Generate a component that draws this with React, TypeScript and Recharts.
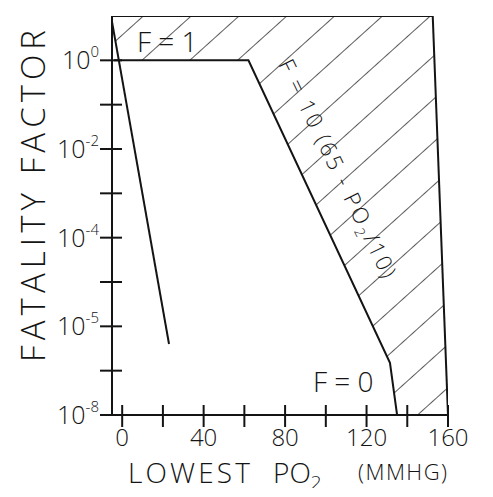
import { ComposedChart, Line, Area, XAxis, YAxis } from 'recharts'

const xTicks = [0, 20, 40, 60, 80, 100, 120, 140, 160]
const xTickLabels = [0, 40, 80, 120, 160]
const yTicks = [1, 1e-1, 1e-2, 1e-3, 1e-4, 1e-5, 1e-6, 1e-7, 1e-8]
// exponent written beside each labelled decade (the scan reads -5 at the 10^-6 mark)
const yTickLabels: Record<number, string> = { 0: '0', [-2]: '-2', [-4]: '-4', [-6]: '-5', [-8]: '-8' }

// outline of the sketch
const frameTop = [{ x: -5, y: 10 }, { x: 152.5, y: 10 }]
const frameRight = [{ x: 152.5, y: 10 }, { x: 160, y: 1e-8 }]
const leftLine = [{ x: -5.5, y: 10 }, { x: 23, y: 4e-7 }]
const boundary = [
  { x: -4, y: 1 },
  { x: 62, y: 1 },
  { x: 131.5, y: 1.5e-7 },
  { x: 135, y: 1e-8 },
]
// hatched zone: [lower, upper]
const hatched = [
  { x: -5.5, range: [10, 10] },
  { x: -2, range: [1, 10] },
  { x: 62, range: [1, 10] },
  { x: 131.5, range: [1.5e-7, 10] },
  { x: 135, range: [1e-8, 10] },
  { x: 152.5, range: [1e-8, 10] },
  { x: 160, range: [1e-8, 1e-8] },
]

const INK = '#141414'
const FONT = '"Open Sans", "DejaVu Sans", sans-serif'

function YTick({ x, y, payload }: any) {
  const exp = Math.round(Math.log10(payload.value))
  const label = yTickLabels[exp]
  return (
    <g>
      <line x1={x - 12} x2={x + 10} y1={y} y2={y} stroke={INK} strokeWidth={2} />
      {label !== undefined && (
        <text x={x - 13} y={y + 9} textAnchor="end" fontFamily={FONT} fontWeight={300} fontSize={25} fill={INK}>
          10<tspan dy={-12} fontSize={15}>{label}</tspan>
        </text>
      )}
    </g>
  )
}

function XTick({ x, y, payload }: any) {
  const show = xTickLabels.includes(payload.value)
  return (
    <g>
      <line x1={x} x2={x} y1={y - 10} y2={y + 12} stroke={INK} strokeWidth={2} />
      {show && (
        <text x={x} y={y + 31} textAnchor="middle" fontFamily={FONT} fontWeight={300} fontSize={24} fill={INK}>
          {payload.value}
        </text>
      )}
    </g>
  )
}

export default function App() {
  return (
    <div style={{ width: 477, height: 480, background: '#fff' }}>
      <ComposedChart width={477} height={489} margin={{ top: 8, right: 37, left: 0, bottom: 0 }}>
        <defs>
          <pattern id="hatch" width="32" height="32" patternUnits="userSpaceOnUse" patternTransform="rotate(48)">
            <line x1="0" y1="0" x2="0" y2="32" stroke={INK} strokeWidth={1.4} />
          </pattern>
        </defs>
        <XAxis
          type="number"
          dataKey="x"
          domain={[-5, 160]}
          ticks={xTicks}
          allowDataOverflow
          height={82}
          tickSize={0}
          tickMargin={0}
          tickLine={false}
          axisLine={{ stroke: INK, strokeWidth: 2 }}
          tick={<XTick />}
        />
        <YAxis
          type="number"
          scale="log"
          domain={[1e-8, 10]}
          ticks={yTicks}
          allowDataOverflow
          width={104}
          tickSize={0}
          tickMargin={0}
          tickLine={false}
          axisLine={{ stroke: INK, strokeWidth: 2 }}
          tick={<YTick />}
        />
        <Area data={hatched} dataKey="range" type="linear" stroke="none" fill="url(#hatch)" fillOpacity={1} isAnimationActive={false} />
        <Line data={frameTop} dataKey="y" stroke={INK} strokeWidth={2} dot={false} isAnimationActive={false} />
        <Line data={frameRight} dataKey="y" stroke={INK} strokeWidth={2} dot={false} isAnimationActive={false} />
        <Line data={leftLine} dataKey="y" stroke={INK} strokeWidth={2} dot={false} isAnimationActive={false} />
        <Line data={boundary} dataKey="y" stroke={INK} strokeWidth={2} dot={false} isAnimationActive={false} />

        <text x={129} y={44} fontFamily={FONT} fontWeight={300} fontSize={28} fill={INK}>F = 1</text>
        <text x={305} y={384} fontFamily={FONT} fontWeight={300} fontSize={28} fill={INK}>F = 0</text>
        <text
          transform="translate(270 56) rotate(64)"
          fontFamily={FONT}
          fontWeight={300}
          fontSize={22}
          fill={INK}
          textLength={240}
          lengthAdjust="spacing"
        >
          F = 10 (65 - PO<tspan dy={5} fontSize={14}>2</tspan><tspan dy={-5}>/10)</tspan>
        </text>

        <text
          transform="translate(37 188) rotate(-90)"
          textAnchor="middle"
          fontFamily={FONT}
          fontWeight={300}
          fontSize={33}
          fill={INK}
          textLength={332}
          lengthAdjust="spacing"
        >
          FATALITY FACTOR
        </text>
        <text x={120} y={475} fontFamily={FONT} fontWeight={300} fontSize={28} fill={INK} textLength={122} lengthAdjust="spacing">
          LOWEST
        </text>
        <text x={265} y={475} fontFamily={FONT} fontWeight={300} fontSize={28} fill={INK}>
          PO<tspan dy={6} fontSize={19}>2</tspan>
        </text>
        <text x={350} y={472} fontFamily={FONT} fontWeight={300} fontSize={22} fill={INK} textLength={89} lengthAdjust="spacing">
          (MMHG)
        </text>
      </ComposedChart>
    </div>
  )
}
